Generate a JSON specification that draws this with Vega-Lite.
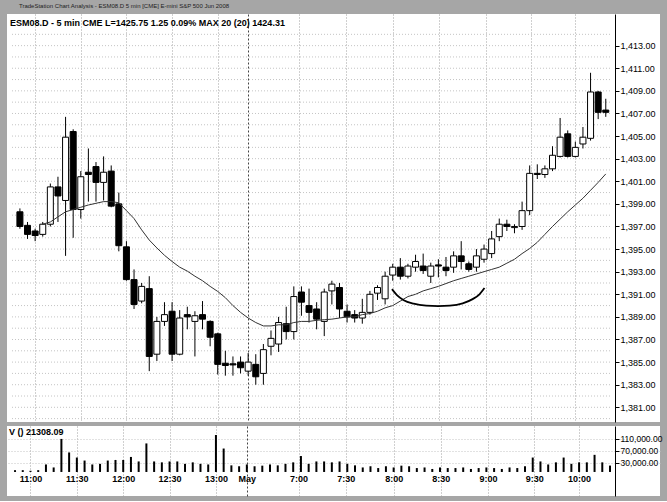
{
  "$schema": "https://vega.github.io/schema/vega-lite/v6.json",
  "background": "#a6a6a6",
  "padding": {"left": 7, "right": 7, "top": 3, "bottom": 5},
  "title": {"text": "TradeStation Chart Analysis - ESM08.D 5 min [CME] E-mini S&P 500 Jun 2008", "anchor": "start", "fontSize": 6, "font": "Liberation Sans", "color": "#222", "fontWeight": "normal", "offset": 5, "dx": 12},
  "spacing": 4,
  "config": {
    "view": {"fill": "white", "stroke": null},
    "font": "Liberation Sans",
    "axis": {"labelFont": "Liberation Sans", "labelFontSize": 9, "labelColor": "#000", "tickColor": "#000", "domainColor": "#000", "labelOverlap": false, "labelFlush": false, "labelBound": false, "tickSize": 4, "labelPadding": 1, "gridWidth": 1}
  },
  "datasets": {
    "bars": [
      {"i":1,"t":"10:50","o":1398.3,"h":1398.6,"l":1396.8,"c":1397.0,"ma":null,"v":6000},
      {"i":2,"t":"10:55","o":1397.1,"h":1397.4,"l":1395.9,"c":1396.3,"ma":null,"v":6000},
      {"i":3,"t":"11:00","o":1396.6,"h":1396.8,"l":1395.7,"c":1396.2,"ma":null,"v":4000},
      {"i":4,"t":"11:05","o":1396.3,"h":1397.4,"l":1396.1,"c":1397.2,"ma":1397.2,"v":6000},
      {"i":5,"t":"11:10","o":1397.2,"h":1400.8,"l":1397.0,"c":1400.5,"ma":1397.4,"v":25000},
      {"i":6,"t":"11:15","o":1400.5,"h":1401.4,"l":1397.4,"c":1399.7,"ma":1397.85,"v":15000},
      {"i":7,"t":"11:20","o":1399.3,"h":1406.7,"l":1394.4,"c":1404.9,"ma":1398.3,"v":110000},
      {"i":8,"t":"11:25","o":1405.4,"h":1405.6,"l":1396.0,"c":1398.5,"ma":1398.5,"v":65000},
      {"i":9,"t":"11:30","o":1398.5,"h":1401.9,"l":1397.7,"c":1401.4,"ma":1398.7,"v":48000},
      {"i":10,"t":"11:35","o":1401.8,"h":1403.9,"l":1399.2,"c":1401.6,"ma":1398.9,"v":38000},
      {"i":11,"t":"11:40","o":1402.3,"h":1402.7,"l":1399.2,"c":1400.9,"ma":1399.05,"v":25000},
      {"i":12,"t":"11:45","o":1400.9,"h":1403.2,"l":1399.3,"c":1401.8,"ma":1399.2,"v":27000},
      {"i":13,"t":"11:50","o":1401.9,"h":1402.4,"l":1398.7,"c":1398.8,"ma":1399.2,"v":38000},
      {"i":14,"t":"11:55","o":1399.0,"h":1400.0,"l":1394.8,"c":1395.3,"ma":1399.1,"v":40000},
      {"i":15,"t":"12:00","o":1395.2,"h":1395.7,"l":1392.2,"c":1392.3,"ma":1398.4,"v":40000},
      {"i":16,"t":"12:05","o":1392.3,"h":1393.2,"l":1389.7,"c":1390.1,"ma":1397.7,"v":50000},
      {"i":17,"t":"12:10","o":1390.4,"h":1392.0,"l":1390.2,"c":1391.7,"ma":1396.7,"v":35000},
      {"i":18,"t":"12:15","o":1391.5,"h":1392.6,"l":1384.2,"c":1385.5,"ma":1395.8,"v":95000},
      {"i":19,"t":"12:20","o":1385.7,"h":1389.0,"l":1385.1,"c":1388.6,"ma":1395.1,"v":35000},
      {"i":20,"t":"12:25","o":1388.6,"h":1390.3,"l":1388.2,"c":1389.2,"ma":1394.45,"v":32000},
      {"i":21,"t":"12:30","o":1389.5,"h":1390.3,"l":1385.1,"c":1385.7,"ma":1393.9,"v":35000},
      {"i":22,"t":"12:35","o":1385.7,"h":1389.6,"l":1385.6,"c":1388.9,"ma":1393.4,"v":35000},
      {"i":23,"t":"12:40","o":1389.2,"h":1389.9,"l":1387.9,"c":1389.0,"ma":1393.05,"v":27000},
      {"i":24,"t":"12:45","o":1388.6,"h":1389.5,"l":1385.5,"c":1389.1,"ma":1392.6,"v":32000},
      {"i":25,"t":"12:50","o":1389.2,"h":1390.4,"l":1387.9,"c":1388.8,"ma":1392.2,"v":27000},
      {"i":26,"t":"12:55","o":1388.6,"h":1388.7,"l":1386.4,"c":1387.2,"ma":1391.7,"v":25000},
      {"i":27,"t":"13:00","o":1387.5,"h":1387.6,"l":1383.9,"c":1384.8,"ma":1391.25,"v":123000},
      {"i":28,"t":"13:05","o":1384.9,"h":1386.0,"l":1383.8,"c":1384.7,"ma":1390.7,"v":78000},
      {"i":29,"t":"13:10","o":1384.85,"h":1385.5,"l":1383.8,"c":1384.75,"ma":1390.0,"v":22000},
      {"i":30,"t":"13:15","o":1385.0,"h":1385.5,"l":1384.0,"c":1384.5,"ma":1389.4,"v":19000},
      {"i":31,"t":"6:35","o":1384.2,"h":1385.8,"l":1383.8,"c":1385.0,"ma":1388.9,"v":25000},
      {"i":32,"t":"6:40","o":1384.8,"h":1385.7,"l":1383.0,"c":1383.7,"ma":1388.5,"v":19000},
      {"i":33,"t":"6:45","o":1384.0,"h":1386.6,"l":1383.0,"c":1386.1,"ma":1388.2,"v":21000},
      {"i":34,"t":"6:50","o":1386.4,"h":1387.8,"l":1385.6,"c":1387.1,"ma":1388.2,"v":25000},
      {"i":35,"t":"6:55","o":1386.6,"h":1389.0,"l":1385.9,"c":1388.5,"ma":1388.3,"v":22000},
      {"i":36,"t":"7:00","o":1388.4,"h":1389.9,"l":1387.0,"c":1387.7,"ma":1388.3,"v":27000},
      {"i":37,"t":"7:05","o":1387.7,"h":1391.7,"l":1387.0,"c":1390.8,"ma":1388.5,"v":32000},
      {"i":38,"t":"7:10","o":1391.2,"h":1391.7,"l":1389.1,"c":1390.3,"ma":1388.6,"v":53000},
      {"i":39,"t":"7:15","o":1390.0,"h":1391.5,"l":1388.5,"c":1389.4,"ma":1388.6,"v":27000},
      {"i":40,"t":"7:20","o":1389.7,"h":1390.3,"l":1387.9,"c":1388.8,"ma":1388.7,"v":35000},
      {"i":41,"t":"7:25","o":1388.6,"h":1391.5,"l":1387.3,"c":1391.2,"ma":1388.75,"v":35000},
      {"i":42,"t":"7:30","o":1391.3,"h":1392.2,"l":1390.1,"c":1391.9,"ma":1388.8,"v":32000},
      {"i":43,"t":"7:35","o":1391.6,"h":1392.0,"l":1388.9,"c":1389.7,"ma":1388.9,"v":35000},
      {"i":44,"t":"7:40","o":1389.5,"h":1390.1,"l":1388.5,"c":1389.0,"ma":1389.0,"v":27000},
      {"i":45,"t":"7:45","o":1389.2,"h":1389.6,"l":1388.5,"c":1388.9,"ma":1389.0,"v":22000},
      {"i":46,"t":"7:50","o":1388.9,"h":1390.6,"l":1388.4,"c":1389.4,"ma":1389.2,"v":15000},
      {"i":47,"t":"7:55","o":1389.4,"h":1391.3,"l":1389.2,"c":1391.0,"ma":1389.3,"v":19000},
      {"i":48,"t":"8:00","o":1391.1,"h":1391.8,"l":1390.5,"c":1391.6,"ma":1389.5,"v":13000},
      {"i":49,"t":"8:05","o":1390.6,"h":1393.0,"l":1390.1,"c":1392.6,"ma":1389.8,"v":19000},
      {"i":50,"t":"8:10","o":1392.7,"h":1393.7,"l":1392.2,"c":1393.4,"ma":1390.0,"v":15000},
      {"i":51,"t":"8:15","o":1393.4,"h":1394.2,"l":1392.3,"c":1392.6,"ma":1390.4,"v":21000},
      {"i":52,"t":"8:20","o":1392.6,"h":1393.7,"l":1392.4,"c":1393.5,"ma":1390.8,"v":19000},
      {"i":53,"t":"8:25","o":1393.4,"h":1394.5,"l":1393.0,"c":1393.9,"ma":1391.0,"v":13000},
      {"i":54,"t":"8:30","o":1393.5,"h":1394.6,"l":1392.8,"c":1393.1,"ma":1391.3,"v":15000},
      {"i":55,"t":"8:35","o":1392.6,"h":1393.8,"l":1392.0,"c":1393.5,"ma":1391.5,"v":10000},
      {"i":56,"t":"8:40","o":1393.6,"h":1394.1,"l":1392.5,"c":1393.5,"ma":1391.7,"v":15000},
      {"i":57,"t":"8:45","o":1393.4,"h":1394.3,"l":1392.6,"c":1393.1,"ma":1391.95,"v":13000},
      {"i":58,"t":"8:50","o":1393.4,"h":1394.8,"l":1392.9,"c":1394.4,"ma":1392.2,"v":13000},
      {"i":59,"t":"8:55","o":1394.4,"h":1395.7,"l":1393.2,"c":1393.9,"ma":1392.4,"v":15000},
      {"i":60,"t":"9:00","o":1393.7,"h":1393.9,"l":1393.0,"c":1393.2,"ma":1392.6,"v":10000},
      {"i":61,"t":"9:05","o":1393.4,"h":1395.0,"l":1393.0,"c":1394.4,"ma":1392.8,"v":13000},
      {"i":62,"t":"9:10","o":1394.1,"h":1395.4,"l":1393.8,"c":1395.0,"ma":1393.0,"v":15000},
      {"i":63,"t":"9:15","o":1394.6,"h":1396.6,"l":1394.2,"c":1395.9,"ma":1393.2,"v":13000},
      {"i":64,"t":"9:20","o":1396.1,"h":1397.7,"l":1395.7,"c":1397.2,"ma":1393.4,"v":10000},
      {"i":65,"t":"9:25","o":1397.2,"h":1397.6,"l":1396.6,"c":1397.0,"ma":1393.75,"v":15000},
      {"i":66,"t":"9:30","o":1396.9,"h":1397.2,"l":1396.4,"c":1397.0,"ma":1394.1,"v":13000},
      {"i":67,"t":"9:35","o":1397.0,"h":1399.2,"l":1396.7,"c":1398.4,"ma":1394.6,"v":19000},
      {"i":68,"t":"9:40","o":1398.4,"h":1402.4,"l":1398.0,"c":1401.7,"ma":1395.05,"v":48000},
      {"i":69,"t":"9:45","o":1401.7,"h":1402.5,"l":1401.2,"c":1401.6,"ma":1395.6,"v":35000},
      {"i":70,"t":"9:50","o":1401.6,"h":1402.4,"l":1401.3,"c":1402.1,"ma":1396.3,"v":25000},
      {"i":71,"t":"9:55","o":1402.1,"h":1404.1,"l":1401.9,"c":1403.3,"ma":1397.0,"v":32000},
      {"i":72,"t":"10:00","o":1403.2,"h":1406.6,"l":1403.1,"c":1404.9,"ma":1397.65,"v":48000},
      {"i":73,"t":"10:05","o":1405.2,"h":1405.5,"l":1403.1,"c":1403.2,"ma":1398.3,"v":27000},
      {"i":74,"t":"10:10","o":1403.2,"h":1404.5,"l":1403.1,"c":1404.0,"ma":1398.9,"v":32000},
      {"i":75,"t":"10:15","o":1404.3,"h":1405.8,"l":1403.9,"c":1404.9,"ma":1399.5,"v":32000},
      {"i":76,"t":"10:20","o":1404.8,"h":1410.6,"l":1404.6,"c":1408.9,"ma":1400.2,"v":57000},
      {"i":77,"t":"10:25","o":1408.9,"h":1409.0,"l":1406.5,"c":1407.1,"ma":1400.9,"v":32000},
      {"i":78,"t":"10:30","o":1407.3,"h":1408.3,"l":1406.7,"c":1407.1,"ma":1401.65,"v":21300}
    ],
    "pgrid": [
      {"p":1380},{"p":1381},{"p":1382},{"p":1383},{"p":1384},{"p":1385},{"p":1386},{"p":1387},{"p":1388},{"p":1389},
      {"p":1390},{"p":1391},{"p":1392},{"p":1393},{"p":1394},{"p":1395},{"p":1396},{"p":1397},{"p":1398},{"p":1399},
      {"p":1400},{"p":1401},{"p":1402},{"p":1403},{"p":1404},{"p":1405},{"p":1406},{"p":1407},{"p":1408},{"p":1409},
      {"p":1410},{"p":1411},{"p":1412},{"p":1413},{"p":1414}
    ],
    "arc": [
      {"ai":49.9,"ap":1391.46},{"ai":50.55,"ap":1390.93},{"ai":51.45,"ap":1390.48},{"ai":52.75,"ap":1390.17},
      {"ai":54.4,"ap":1389.99},{"ai":55.98,"ap":1389.95},{"ai":57.5,"ap":1389.99},{"ai":59.2,"ap":1390.2},
      {"ai":60.5,"ap":1390.57},{"ai":61.4,"ap":1391.0},{"ai":62.06,"ap":1391.55}
    ]
  },
  "vconcat": [
    {
      "width": 653,
      "height": 408,
      "title": {"text": "ESM08.D - 5 min CME L=1425.75 1.25 0.09% MAX 20 (20) 1424.31", "anchor": "start", "orient": "top", "offset": -14, "fontSize": 9, "fontWeight": "bold", "color": "#000", "dx": 3, "font": "Liberation Sans"},
      "layer": [
        {
          "data": {"name": "pgrid"},
          "mark": {"type": "rule", "color": "#c4c4c4", "strokeDash": [1, 2], "strokeWidth": 1},
          "encoding": {
            "y": {"field": "p", "type": "quantitative", "scale": {"domain": [1379.7, 1415.8], "nice": false, "zero": false},
              "axis": {"orient": "right", "offset": -45, "title": null, "grid": false, "labelOverlap": false, "values": [1381,1383,1385,1387,1389,1391,1393,1395,1397,1399,1401,1403,1405,1407,1409,1411,1413], "format": ",.2f"}},
            "x": {"datum": -0.04, "type": "quantitative", "scale": {"domain": [-0.04, 84.47], "nice": false, "zero": false},
              "axis": {"orient": "bottom", "title": null, "labels": false, "ticks": false, "domain": false, "grid": true,
                "values": [3, 9, 15, 21, 27, 31, 37.7, 43.8, 50, 56.1, 62.2, 68.2, 74],
                "gridColor": {"condition": {"test": "datum.value === 31", "value": "#444"}, "value": "#a0a0a0"},
                "gridDash": {"condition": {"test": "datum.value === 31", "value": [2, 2]}, "value": [1, 2]}}},
            "x2": {"datum": 78.6}
          }
        },
        {
          "data": {"name": "bars"},
          "mark": {"type": "rule", "color": "#000", "strokeWidth": 1},
          "encoding": {
            "x": {"field": "i", "type": "quantitative", "scale": {"domain": [-0.04, 84.47], "nice": false, "zero": false},
              "axis": {"orient": "bottom", "title": null, "labels": false, "ticks": false, "domain": false, "grid": true,
                "values": [3, 9, 15, 21, 27, 31, 37.7, 43.8, 50, 56.1, 62.2, 68.2, 74],
                "gridColor": {"condition": {"test": "datum.value === 31", "value": "#444"}, "value": "#a0a0a0"},
                "gridDash": {"condition": {"test": "datum.value === 31", "value": [2, 2]}, "value": [1, 2]}}},
            "y": {"field": "l", "type": "quantitative", "scale": {"domain": [1379.7, 1415.8], "nice": false, "zero": false},
              "axis": {"orient": "right", "offset": -45, "title": null, "grid": false, "labelOverlap": false, "values": [1381,1383,1385,1387,1389,1391,1393,1395,1397,1399,1401,1403,1405,1407,1409,1411,1413], "format": ",.2f"}},
            "y2": {"field": "h"}
          }
        },
        {
          "data": {"name": "bars"},
          "mark": {"type": "bar", "size": 6, "stroke": "#000", "strokeWidth": 1},
          "encoding": {
            "x": {"field": "i", "type": "quantitative", "scale": {"domain": [-0.04, 84.47], "nice": false, "zero": false},
              "axis": {"orient": "bottom", "title": null, "labels": false, "ticks": false, "domain": false, "grid": true,
                "values": [3, 9, 15, 21, 27, 31, 37.7, 43.8, 50, 56.1, 62.2, 68.2, 74],
                "gridColor": {"condition": {"test": "datum.value === 31", "value": "#444"}, "value": "#a0a0a0"},
                "gridDash": {"condition": {"test": "datum.value === 31", "value": [2, 2]}, "value": [1, 2]}}},
            "y": {"field": "o", "type": "quantitative", "scale": {"domain": [1379.7, 1415.8], "nice": false, "zero": false},
              "axis": {"orient": "right", "offset": -45, "title": null, "grid": false, "labelOverlap": false, "values": [1381,1383,1385,1387,1389,1391,1393,1395,1397,1399,1401,1403,1405,1407,1409,1411,1413], "format": ",.2f"}},
            "y2": {"field": "c"},
            "fill": {"condition": {"test": "datum.c >= datum.o", "value": "#ffffff"}, "value": "#000000"}
          }
        },
        {
          "data": {"name": "bars"},
          "mark": {"type": "line", "color": "#333", "strokeWidth": 1},
          "encoding": {
            "x": {"field": "i", "type": "quantitative", "scale": {"domain": [-0.04, 84.47], "nice": false, "zero": false},
              "axis": {"orient": "bottom", "title": null, "labels": false, "ticks": false, "domain": false, "grid": true,
                "values": [3, 9, 15, 21, 27, 31, 37.7, 43.8, 50, 56.1, 62.2, 68.2, 74],
                "gridColor": {"condition": {"test": "datum.value === 31", "value": "#444"}, "value": "#a0a0a0"},
                "gridDash": {"condition": {"test": "datum.value === 31", "value": [2, 2]}, "value": [1, 2]}}},
            "y": {"field": "ma", "type": "quantitative", "scale": {"domain": [1379.7, 1415.8], "nice": false, "zero": false},
              "axis": {"orient": "right", "offset": -45, "title": null, "grid": false, "labelOverlap": false, "values": [1381,1383,1385,1387,1389,1391,1393,1395,1397,1399,1401,1403,1405,1407,1409,1411,1413], "format": ",.2f"}}
          }
        },
        {
          "data": {"name": "arc"},
          "mark": {"type": "line", "color": "#000", "strokeWidth": 1.8, "interpolate": "monotone"},
          "encoding": {
            "x": {"field": "ai", "type": "quantitative", "scale": {"domain": [-0.04, 84.47], "nice": false, "zero": false},
              "axis": {"orient": "bottom", "title": null, "labels": false, "ticks": false, "domain": false, "grid": true,
                "values": [3, 9, 15, 21, 27, 31, 37.7, 43.8, 50, 56.1, 62.2, 68.2, 74],
                "gridColor": {"condition": {"test": "datum.value === 31", "value": "#444"}, "value": "#a0a0a0"},
                "gridDash": {"condition": {"test": "datum.value === 31", "value": [2, 2]}, "value": [1, 2]}}},
            "y": {"field": "ap", "type": "quantitative", "scale": {"domain": [1379.7, 1415.8], "nice": false, "zero": false},
              "axis": {"orient": "right", "offset": -45, "title": null, "grid": false, "labelOverlap": false, "values": [1381,1383,1385,1387,1389,1391,1393,1395,1397,1399,1401,1403,1405,1407,1409,1411,1413], "format": ",.2f"}}
          }
        }
      ]
    },
    {
      "width": 653,
      "height": 70,
      "title": {"text": "V () 21308.09", "anchor": "start", "orient": "top", "offset": -11, "fontSize": 9, "fontWeight": "bold", "color": "#000", "dx": 2, "font": "Liberation Sans"},
      "data": {"name": "bars"},
      "mark": {"type": "rule", "color": "#000", "strokeWidth": 2},
      "encoding": {
        "x": {"field": "i", "type": "quantitative", "scale": {"domain": [-0.04, 84.47], "nice": false, "zero": false},
          "axis": {"orient": "bottom", "offset": -24, "title": null, "ticks": false, "domain": false, "grid": true,
            "values": [3, 9, 15, 21, 27, 31, 37.7, 43.8, 50, 56.1, 62.2, 68.2, 74],
            "labelExpr": "datum.value==3?'11:00':datum.value==9?'11:30':datum.value==15?'12:00':datum.value==21?'12:30':datum.value==27?'13:00':datum.value==31?'May':datum.value==37.7?'7:00':datum.value==43.8?'7:30':datum.value==50?'8:00':datum.value==56.1?'8:30':datum.value==62.2?'9:00':datum.value==68.2?'9:30':datum.value==74?'10:00':''",
            "labelFontWeight": "bold", "labelPadding": 2,
            "gridColor": {"condition": {"test": "datum.value === 31", "value": "#444"}, "value": "#a0a0a0"},
            "gridDash": {"condition": {"test": "datum.value === 31", "value": [2, 2]}, "value": [1, 2]}}},
        "y": {"field": "v", "type": "quantitative", "scale": {"domain": [-80000, 153000], "nice": false, "zero": false},
          "axis": {"orient": "right", "offset": -45, "title": null, "grid": true, "gridColor": "#c4c4c4", "gridDash": [1, 2], "labelOverlap": false, "labelSeparation": 0, "values": [30000, 70000, 110000], "format": ",.2f", "labelLimit": 46, "labelFontSize": 8.5}},
        "y2": {"datum": 0}
      }
    }
  ]
}
